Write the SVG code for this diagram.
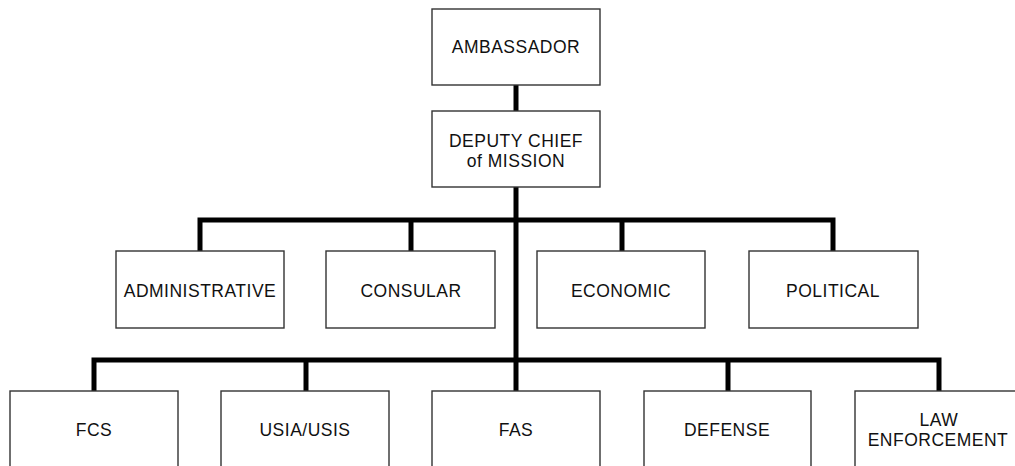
<svg xmlns="http://www.w3.org/2000/svg" width="1015" height="466" viewBox="0 0 1015 466">
<style>
.box{fill:#fff;stroke:#333;stroke-width:1.4}
.lbl{font-family:"Liberation Sans",Arial,sans-serif;font-size:17.5px;letter-spacing:0.5px;fill:#111;text-anchor:middle}
.con{fill:none;stroke:#000;stroke-width:5;stroke-linecap:butt;stroke-linejoin:miter}
</style>
<rect width="1015" height="466" fill="#fff"/>
<g id="connectors">
<path class="con" d="M516,85V111"/>
<path class="con" d="M516,187V391"/>
<path class="con" d="M200,251V220H833V251"/>
<path class="con" d="M411,220V251"/>
<path class="con" d="M622,220V251"/>
<path class="con" d="M94,391V360H939V391"/>
<path class="con" d="M306,360V391"/>
<path class="con" d="M728,360V391"/>
</g>
<g id="ambassador"><rect class="box" x="432" y="9" width="168" height="76"/><text class="lbl" x="516" y="53">AMBASSADOR</text></g>
<g id="dcm"><rect class="box" x="432" y="111" width="168" height="76"/><text class="lbl" x="516" y="147">DEPUTY CHIEF</text><text class="lbl" x="516" y="167">of MISSION</text></g>
<g id="administrative"><rect class="box" x="116" y="251" width="168" height="77"/><text class="lbl" x="200" y="297">ADMINISTRATIVE</text></g>
<g id="consular"><rect class="box" x="326" y="251" width="169" height="77"/><text class="lbl" x="411" y="297">CONSULAR</text></g>
<g id="economic"><rect class="box" x="537" y="251" width="168" height="77"/><text class="lbl" x="621" y="297">ECONOMIC</text></g>
<g id="political"><rect class="box" x="749" y="251" width="169" height="77"/><text class="lbl" x="833" y="297">POLITICAL</text></g>
<g id="fcs"><rect class="box" x="10" y="391" width="168" height="80"/><text class="lbl" x="94" y="436">FCS</text></g>
<g id="usia"><rect class="box" x="221" y="391" width="168" height="80"/><text class="lbl" x="305" y="436">USIA/USIS</text></g>
<g id="fas"><rect class="box" x="432" y="391" width="168" height="80"/><text class="lbl" x="516" y="436">FAS</text></g>
<g id="defense"><rect class="box" x="644" y="391" width="167" height="80"/><text class="lbl" x="727" y="436">DEFENSE</text></g>
<g id="law"><rect class="box" x="855" y="391" width="168" height="80"/><text class="lbl" x="939" y="426">LAW</text><text class="lbl" x="938" y="446">ENFORCEMENT</text></g>
</svg>
